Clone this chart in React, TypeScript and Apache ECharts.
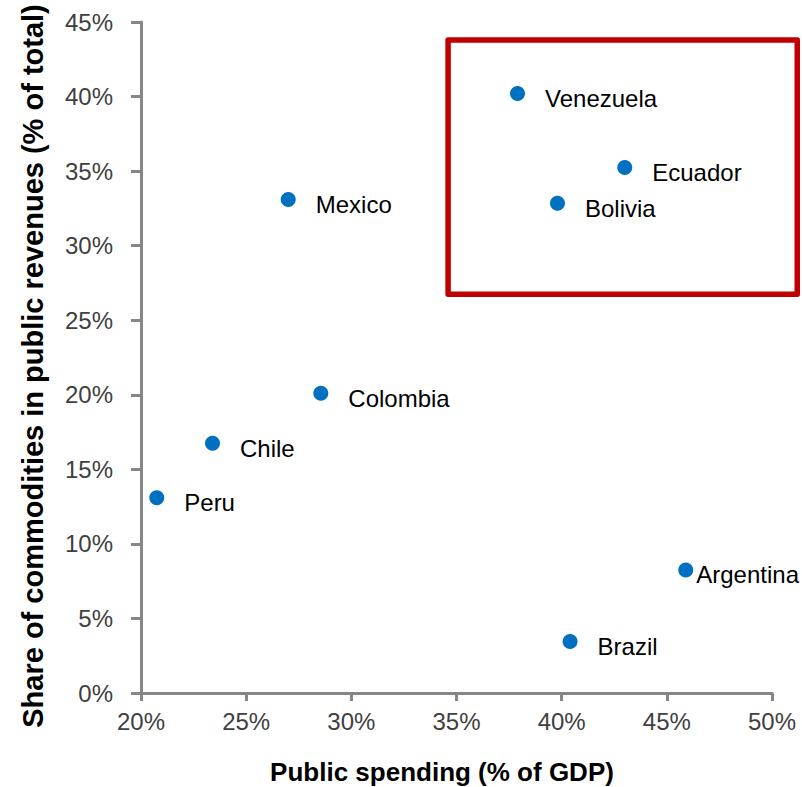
import React, { useEffect, useRef } from "react";
import * as echarts from "echarts";

// Public spending (% of GDP) vs. share of commodities in public revenues (% of total)
const countries = ["Venezuela", "Ecuador", "Bolivia", "Mexico", "Colombia", "Chile", "Peru", "Argentina", "Brazil"];
const publicSpending = [37.9, 43.0, 39.8, 27.0, 28.55, 23.4, 20.75, 45.9, 40.4];
const commodityShare = [40.2, 35.25, 32.85, 33.1, 20.1, 16.75, 13.1, 8.25, 3.45];

const xTicks = { min: 20, max: 50, interval: 5 };
const yTicks = { min: 0, max: 45, interval: 5 };

// Highlighted group (data coordinates of the box corners)
const highlightBox = { x1: 34.6, y1: 43.8, x2: 51.2, y2: 26.75 };

const FONT = "'Liberation Sans', Arial, sans-serif";

export default function App() {
  const ref = useRef<HTMLDivElement>(null);

  useEffect(() => {
    if (!ref.current) return;
    const chart = echarts.init(ref.current, null, { renderer: "svg" });

    const data = countries.map((name, i) => ({
      name,
      value: [publicSpending[i], commodityShare[i]],
      label: name === "Argentina" ? { distance: 3 } : undefined,
    }));

    chart.setOption({
      animation: false,
      backgroundColor: "#ffffff",
      grid: { left: 141, right: 30, top: 22, bottom: 94 },
      xAxis: {
        type: "value",
        min: xTicks.min,
        max: xTicks.max,
        interval: xTicks.interval,
        splitLine: { show: false },
        axisLine: { show: true, onZero: false, lineStyle: { color: "#868686", width: 3 } },
        axisTick: { show: true, length: 8, lineStyle: { color: "#868686", width: 3 } },
        axisLabel: {
          margin: 16,
          color: "#404040",
          fontFamily: FONT,
          fontSize: 24,
          formatter: (v: number) => `${v}%`,
        },
      },
      yAxis: {
        type: "value",
        min: yTicks.min,
        max: yTicks.max,
        interval: yTicks.interval,
        splitLine: { show: false },
        axisLine: { show: true, onZero: false, lineStyle: { color: "#868686", width: 3 } },
        axisTick: { show: true, length: 10, lineStyle: { color: "#868686", width: 3 } },
        axisLabel: {
          margin: 28,
          color: "#404040",
          fontFamily: FONT,
          fontSize: 24,
          formatter: (v: number) => `${v}%`,
        },
      },
      series: [
        {
          type: "scatter",
          data,
          symbol: "circle",
          symbolSize: 15,
          itemStyle: { color: "#0070C0", opacity: 1 },
          label: {
            show: true,
            position: "right",
            distance: 20,
            offset: [0, 5],
            formatter: "{b}",
            color: "#000000",
            fontFamily: FONT,
            fontSize: 24,
          },
        },
      ],
    });

    const [px1, py1] = chart.convertToPixel({ gridIndex: 0 }, [highlightBox.x1, highlightBox.y1]) as number[];
    const [px2, py2] = chart.convertToPixel({ gridIndex: 0 }, [highlightBox.x2, highlightBox.y2]) as number[];

    chart.setOption({
      graphic: [
        {
          type: "rect",
          shape: { x: px1, y: py1, width: px2 - px1, height: py2 - py1 },
          style: { fill: "none", stroke: "#C00000", lineWidth: 5.5, lineJoin: "round" },
          z: 10,
        },
        {
          type: "text",
          x: 442,
          y: 772,
          style: {
            text: "Public spending (% of GDP)",
            fontFamily: FONT,
            fontSize: 26,
            fontWeight: "bold",
            fill: "#000000",
            align: "center",
            verticalAlign: "middle",
          },
        },
        {
          type: "text",
          x: 33,
          y: 366,
          rotation: Math.PI / 2,
          style: {
            text: "Share of commodities in public revenues (% of total)",
            fontFamily: FONT,
            fontSize: 29,
            fontWeight: "bold",
            fill: "#000000",
            align: "center",
            verticalAlign: "middle",
          },
        },
      ],
    });

    return () => chart.dispose();
  }, []);

  return (
    <div
      ref={ref}
      style={{ position: "fixed", left: 0, top: 0, width: 802, height: 787, background: "#fff" }}
    />
  );
}
